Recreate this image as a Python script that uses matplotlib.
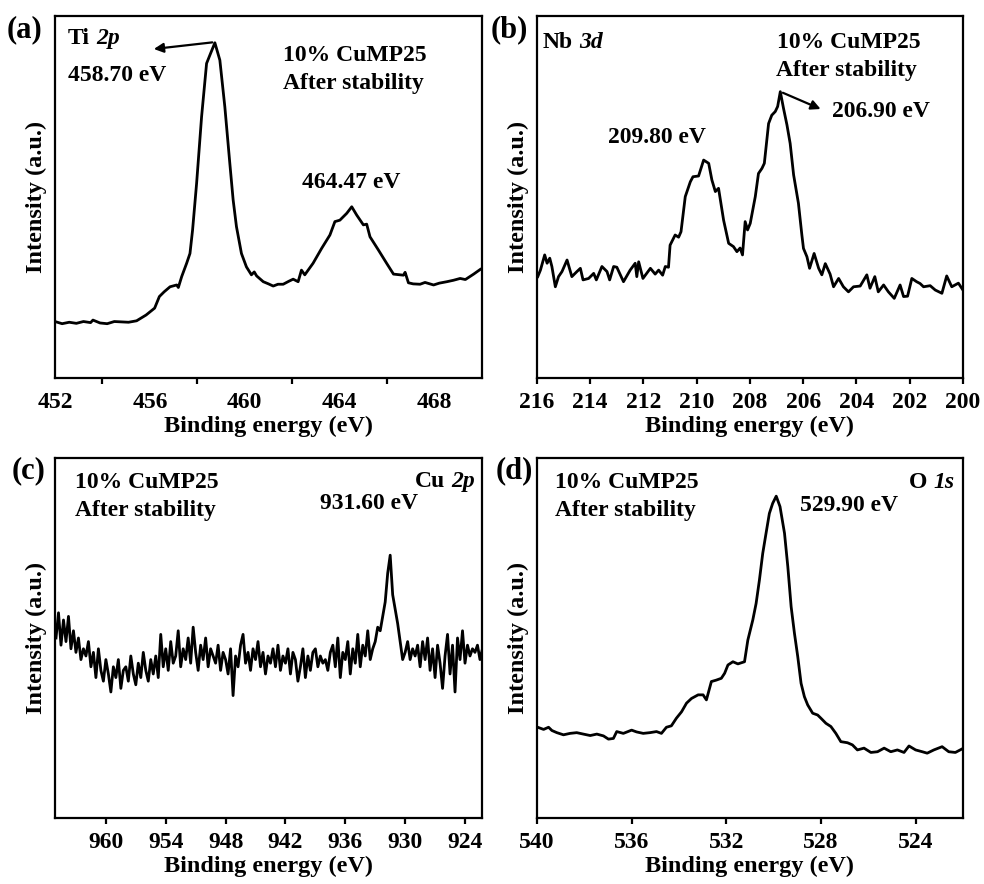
import numpy as np
import matplotlib
matplotlib.use('Agg')
import matplotlib.pyplot as plt

# 字体设置: Times 风格粗体
plt.rcParams['font.family'] = ['Liberation Serif', 'DejaVu Serif']
plt.rcParams['font.weight'] = 'bold'

# (a) Ti 2p
ti_energy = [452.0, 452.3, 452.6, 452.9, 453.2, 453.5, 453.6, 453.9, 454.2, 454.5, 454.8, 455.1,
             455.44, 455.84, 456.2, 456.4, 456.6, 456.85, 457.13, 457.2, 457.34, 457.55, 457.69,
             457.8, 457.97, 458.18, 458.39, 458.53, 458.74, 458.95, 459.16, 459.37, 459.51,
             459.65, 459.86, 460.07, 460.28, 460.4, 460.5, 460.78, 461.0, 461.2, 461.4, 461.62,
             461.85, 462.04, 462.25, 462.39, 462.53, 462.88, 463.24, 463.59, 463.8, 464.01,
             464.3, 464.51, 464.72, 465.0, 465.14, 465.28, 465.63, 465.98, 466.27, 466.69,
             466.76, 466.9, 467.1, 467.39, 467.6, 467.96, 468.2, 468.52, 468.8, 469.08, 469.3,
             469.65, 469.93]
ti_intensity = [15.6, 15.0, 15.4, 15.1, 15.6, 15.3, 16.0, 15.2, 15.0, 15.6, 15.5, 15.4,
                15.8, 17.4, 19.3, 22.5, 23.8, 25.2, 25.7, 25.0, 28.0, 31.7, 34.4,
                40.9, 53.8, 72.2, 86.9, 89.2, 92.6, 87.8, 74.9, 59.3, 49.2,
                41.8, 34.4, 30.7, 28.5, 29.3, 28.2, 26.6, 26.0, 25.4, 25.9, 25.9,
                26.7, 27.3, 26.6, 29.8, 28.5, 31.7, 35.8, 39.5, 43.2, 43.6,
                45.5, 47.3, 45.0, 42.3, 42.5, 39.0, 35.4, 31.7, 28.7, 28.4,
                29.2, 26.3, 26.0, 25.9, 26.4, 25.7, 26.2, 26.6, 27.0, 27.5, 27.2,
                28.7, 30.0]

# (b) Nb 3d
nb_energy = [215.97, 215.87, 215.71, 215.62, 215.52, 215.44, 215.31, 215.19, 215.06, 214.87,
             214.69, 214.5, 214.37, 214.27, 214.06, 213.87, 213.77, 213.56, 213.37, 213.27,
             213.12, 213.0, 212.75, 212.5, 212.31, 212.25, 212.18, 212.02, 211.74, 211.56,
             211.43, 211.28, 211.18, 211.06, 211.0, 210.81, 210.68, 210.59, 210.43, 210.24,
             210.14, 209.93, 209.74, 209.55, 209.43, 209.3, 209.18, 208.99, 208.8, 208.62,
             208.49, 208.37, 208.28, 208.18, 208.09, 207.99, 207.8, 207.68, 207.55, 207.46,
             207.3, 207.18, 207.05, 206.96, 206.86, 206.74, 206.61, 206.49, 206.36, 206.18,
             206.05, 205.99, 205.86, 205.76, 205.59, 205.42, 205.3, 205.17, 204.99, 204.86,
             204.67, 204.49, 204.3, 204.11, 203.86, 203.61, 203.49, 203.31, 203.18, 202.98,
             202.8, 202.58, 202.36, 202.23, 202.08, 201.92, 201.74, 201.61, 201.48, 201.23,
             201.04, 200.79, 200.61, 200.42, 200.17, 200.0]
nb_intensity = [28.0, 29.8, 34.0, 31.7, 33.1, 30.8, 25.2, 28.0, 29.4, 32.6,
                28.0, 29.4, 30.3, 27.1, 27.5, 28.9, 27.1, 30.8, 29.4, 27.1,
                30.8, 30.6, 26.6, 29.8, 31.7, 28.0, 32.1, 27.5, 30.3, 28.7,
                29.8, 28.4, 30.8, 30.6, 36.7, 39.5, 38.9, 40.4, 50.1, 54.2,
                55.6, 55.8, 60.2, 59.3, 54.7, 51.5, 52.4, 43.6, 37.2, 36.3,
                34.9, 35.9, 34.0, 43.2, 40.9, 42.7, 50.1, 56.5, 57.9, 59.3,
                70.3, 72.6, 73.6, 75.0, 79.1, 74.5, 69.9, 64.8, 56.1, 48.3,
                39.5, 35.8, 33.5, 30.3, 34.4, 30.3, 28.5, 31.6, 28.7, 25.2,
                27.5, 25.2, 23.8, 25.2, 25.4, 28.5, 24.8, 28.0, 23.8, 25.7,
                23.8, 22.0, 25.7, 22.5, 22.6, 27.5, 26.6, 26.1, 25.2, 25.5,
                24.3, 23.4, 28.2, 25.2, 26.2, 24.3]

# (c) Cu 2p, 步长 0.25 eV, 965.0 -> 922.25
cu_energy = np.arange(965.0, 922.2, -0.25)
cu_intensity = [50, 57, 48, 55,   49, 56, 47, 52,   46, 50, 44, 47,   45, 49, 42, 46,
                39, 47, 41, 38,   44, 40, 35, 42,   39, 44, 36, 41,   42, 38, 45, 40,
                37, 43, 39, 46,   41, 38, 44, 40,   45, 39, 51, 42,   47, 41, 49, 43,
                45, 52, 42, 47,   44, 50, 43, 53,   46, 41, 48, 44,   50, 42, 47, 45,
                43, 48, 41, 46,   44, 40, 47, 34,   45, 42, 48, 51,   43, 46, 41, 47,
                44, 49, 42, 46,   40, 45, 43, 47,   42, 48, 41, 45,   43, 47, 40, 46,
                44, 38, 42, 47,   39, 45, 41, 46,   47, 42, 45, 43,   44, 41, 46, 48,
                42, 50, 39, 46,   44, 49, 40, 47,   43, 51, 42, 48,   45, 52, 44, 47,
                49, 53, 52, 56,   60, 68, 73, 62,   58, 54, 49, 44,   46, 49, 44, 47,
                45, 48, 42, 49,   44, 50, 41, 47,   39, 48, 43, 36,   45, 51, 40, 48,
                35, 50, 44, 52,   43, 48, 45, 47,   46, 48, 44, 47]

# (d) O 1s
o_energy = [539.97, 539.72, 539.51, 539.37, 539.16, 538.88, 538.6, 538.32, 538.04, 537.75,
            537.47, 537.19, 536.98, 536.77, 536.63, 536.35, 536.0, 535.79, 535.51, 535.23,
            534.95, 534.74, 534.53, 534.32, 534.11, 533.89, 533.68, 533.47, 533.19, 532.98,
            532.84, 532.63, 532.42, 532.21, 532.07, 531.93, 531.72, 531.51, 531.23, 531.09,
            530.88, 530.74, 530.6, 530.46, 530.32, 530.18, 530.04, 529.89, 529.73, 529.54,
            529.4, 529.26, 529.12, 528.98, 528.84, 528.7, 528.56, 528.35, 528.14, 528.0,
            527.79, 527.58, 527.37, 527.16, 526.88, 526.67, 526.46, 526.18, 525.89, 525.61,
            525.33, 525.05, 524.77, 524.49, 524.28, 524.0, 523.72, 523.51, 523.23, 522.88,
            522.6, 522.32, 522.06]
o_intensity = [25.2, 24.6, 25.2, 24.3, 23.7, 23.1, 23.5, 23.7, 23.3, 22.9,
               23.3, 22.8, 21.9, 22.1, 24.0, 23.5, 24.4, 23.9, 23.5, 23.7,
               24.0, 23.5, 25.2, 25.6, 27.7, 29.5, 31.9, 33.2, 34.2, 34.2,
               32.8, 37.9, 38.3, 38.8, 40.2, 42.5, 43.4, 42.8, 43.4, 49.4,
               55.0, 59.6, 66.1, 73.5, 79.1, 84.6, 87.4, 89.4, 86.5, 79.1,
               69.8, 58.7, 51.3, 44.8, 37.4, 33.7, 31.4, 29.1, 28.6, 27.7,
               26.3, 25.4, 23.5, 21.2, 20.9, 20.3, 18.9, 19.4, 18.2, 18.4,
               19.4, 18.4, 18.9, 18.2, 20.0, 18.9, 18.4, 18.0, 18.9, 19.8,
               18.4, 18.2, 19.1]

fig = plt.figure(figsize=(9.84, 8.84), dpi=100)
ax_a = fig.add_axes([0.0559, 0.5724, 0.4339, 0.4095])
ax_b = fig.add_axes([0.5457, 0.5724, 0.4329, 0.4095])
ax_c = fig.add_axes([0.0559, 0.0747, 0.4339, 0.4072])
ax_d = fig.add_axes([0.5457, 0.0747, 0.4329, 0.4072])

txt = dict(fontsize=17, fontweight='bold')
panel = dict(fontsize=22, fontweight='bold', va='center')


def style_axes(ax):
    for sp in ax.spines.values():
        sp.set_linewidth(1.6)
    ax.set_yticks([])
    ax.set_ylim(0, 100)
    ax.tick_params(axis='x', which='both', direction='out', width=1.6, labelsize=17, pad=6)
    ax.tick_params(axis='x', which='major', length=4)
    ax.set_xlabel('Binding energy (eV)', fontsize=17.5, fontweight='bold', labelpad=2)
    ax.set_ylabel('Intensity (a.u.)', fontsize=17.5, fontweight='bold', labelpad=6)


def orbital_label(ax, x, y, elem, orb, right=False):
    # 元素名正体, 轨道名斜体
    if not right:
        t = ax.text(x, y, elem, transform=ax.transAxes, va='top', **txt)
        ax.annotate(orb, xy=(1, 0), xycoords=t, xytext=(4.5, 0), textcoords='offset points',
                    va='bottom', ha='left', fontstyle='italic', **txt)
    else:
        t = ax.text(x, y, orb, transform=ax.transAxes, va='top', ha='right',
                    fontstyle='italic', **txt)
        ax.annotate(elem, xy=(0, 0), xycoords=t, xytext=(-4.5, 0), textcoords='offset points',
                    va='bottom', ha='right', **txt)


# (a)
ax_a.plot(ti_energy, ti_intensity, color='black', lw=2)
style_axes(ax_a)
ax_a.set_xlim(452, 470)
ax_a.set_xticks([452, 456, 460, 464, 468])
ax_a.set_xticks([454, 458, 462, 466], minor=True)
ax_a.tick_params(axis='x', which='major', length=0, pad=10)
ax_a.tick_params(axis='x', which='minor', length=4)
ax_a.annotate('', xy=(456.05, 90.8), xytext=(458.75, 92.8),
              arrowprops=dict(arrowstyle='-|>', color='black', lw=1.6, mutation_scale=14))
orbital_label(ax_a, 0.03, 0.967, 'Ti', '2p')
ax_a.text(0.03, 0.865, '458.70 eV', transform=ax_a.transAxes, va='top', **txt)
ax_a.text(0.534, 0.92, '10% CuMP25', transform=ax_a.transAxes, va='top', **txt)
ax_a.text(0.534, 0.843, 'After stability', transform=ax_a.transAxes, va='top', **txt)
ax_a.text(464.47, 52.5, '464.47 eV', ha='center', va='baseline', **txt)
fig.text(0.007, 0.966, '(a)', **panel)

# (b)
ax_b.plot(nb_energy, nb_intensity, color='black', lw=2)
style_axes(ax_b)
ax_b.set_xlim(216, 200)
ax_b.set_xticks(np.arange(216, 199, -2))
ax_b.annotate('', xy=(205.25, 74.0), xytext=(206.86, 79.1),
              arrowprops=dict(arrowstyle='-|>', color='black', lw=1.6, mutation_scale=14))
orbital_label(ax_b, 0.014, 0.956, 'Nb', '3d')
ax_b.text(0.563, 0.956, '10% CuMP25', transform=ax_b.transAxes, va='top', **txt)
ax_b.text(0.561, 0.878, 'After stability', transform=ax_b.transAxes, va='top', **txt)
ax_b.text(204.92, 73.5, '206.90 eV', ha='left', va='center', **txt)
ax_b.text(211.5, 64.9, '209.80 eV', ha='center', va='baseline', **txt)
fig.text(0.499, 0.966, '(b)', **panel)

# (c)
ax_c.plot(cu_energy, cu_intensity, color='black', lw=2)
style_axes(ax_c)
ax_c.set_xlim(965.1, 922.3)
ax_c.set_xticks(np.arange(960, 923, -6))
ax_c.text(0.047, 0.961, '10% CuMP25', transform=ax_c.transAxes, va='top', **txt)
ax_c.text(0.047, 0.883, 'After stability', transform=ax_c.transAxes, va='top', **txt)
orbital_label(ax_c, 0.984, 0.965, 'Cu', '2p', right=True)
ax_c.text(0.62, 0.903, '931.60 eV', transform=ax_c.transAxes, va='top', **txt)
fig.text(0.012, 0.467, '(c)', **panel)

# (d)
ax_d.plot(o_energy, o_intensity, color='black', lw=2)
style_axes(ax_d)
ax_d.set_xlim(540, 522)
ax_d.set_xticks([540, 536, 532, 528, 524])
ax_d.text(0.042, 0.961, '10% CuMP25', transform=ax_d.transAxes, va='top', **txt)
ax_d.text(0.042, 0.883, 'After stability', transform=ax_d.transAxes, va='top', **txt)
orbital_label(ax_d, 0.981, 0.962, 'O', '1s', right=True)
ax_d.text(0.617, 0.897, '529.90 eV', transform=ax_d.transAxes, va='top', **txt)
fig.text(0.504, 0.467, '(d)', **panel)

plt.savefig('out.png', dpi=100)
